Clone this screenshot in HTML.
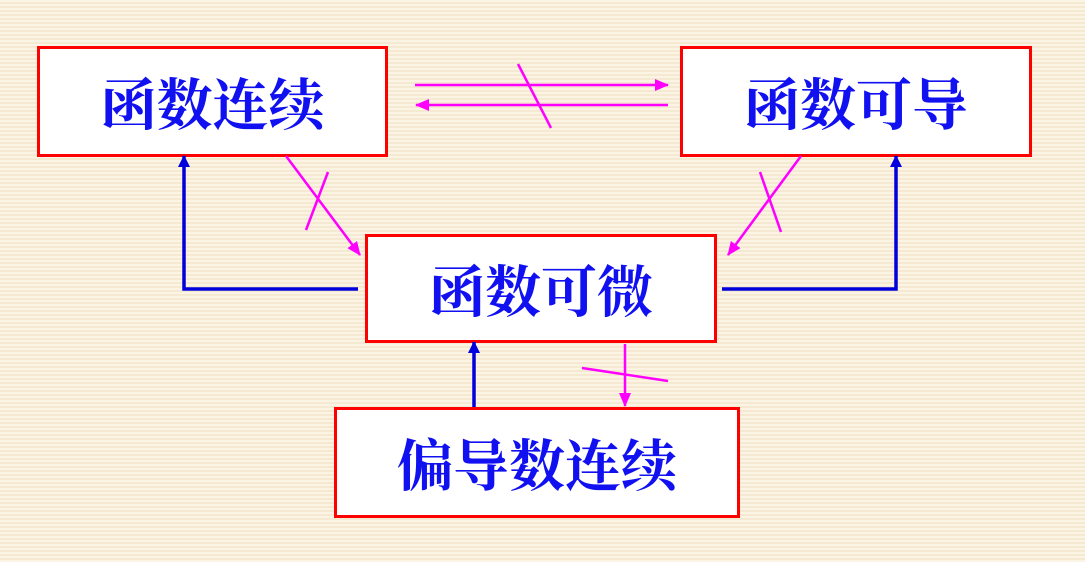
<!DOCTYPE html>
<html><head><meta charset="utf-8"><style>
body{margin:0;width:1085px;height:562px;overflow:hidden;background:repeating-linear-gradient(180deg,#fbf3e3 0 2px,#f6e9d2 2px 4px);position:relative}
.b{position:absolute;background:#fff;border:3px solid #ff0000;box-sizing:border-box;display:flex;align-items:center;justify-content:center;color:#1010f0;font:bold 56px "Liberation Serif","Noto Serif CJK SC",serif}
svg{position:absolute;left:0;top:0}
</style></head><body>
<div class="b" style="left:37px;top:46px;width:351px;height:111px">函数连续</div>
<div class="b" style="left:680px;top:46px;width:352px;height:111px">函数可导</div>
<div class="b" style="left:365px;top:234px;width:352px;height:109px">函数可微</div>
<div class="b" style="left:334px;top:407px;width:406px;height:111px">偏导数连续</div>
<svg width="1085" height="562">
<defs>
<marker id="m" markerWidth="14" markerHeight="12" refX="13" refY="6" orient="auto" markerUnits="userSpaceOnUse"><path d="M0,0 L14,6 L0,12 Z" fill="#ff00ff"/></marker>
<marker id="bl" markerWidth="12" markerHeight="12" refX="11" refY="6" orient="auto" markerUnits="userSpaceOnUse"><path d="M0,0 L12,6 L0,12 Z" fill="#0000dd"/></marker>
</defs>
<g stroke="#ff00ff" stroke-width="2.5" fill="none">
<line x1="415" y1="85" x2="668" y2="85" marker-end="url(#m)"/>
<line x1="668" y1="105" x2="416" y2="105" marker-end="url(#m)"/>
<line x1="518" y1="64" x2="551" y2="128"/>
<line x1="286" y1="156" x2="360" y2="255" marker-end="url(#m)"/>
<line x1="328" y1="172" x2="306" y2="230"/>
<line x1="801" y1="156" x2="728" y2="255" marker-end="url(#m)"/>
<line x1="760" y1="172" x2="781" y2="232"/>
<line x1="625" y1="344" x2="625" y2="406" marker-end="url(#m)"/>
<line x1="582" y1="368" x2="668" y2="381"/>
</g>
<g stroke="#0000dd" stroke-width="3.5" fill="none">
<polyline points="358,289 184,289 184,156" marker-end="url(#bl)"/>
<polyline points="722,289 896,289 896,156" marker-end="url(#bl)"/>
<line x1="474" y1="407" x2="474" y2="342" marker-end="url(#bl)"/>
</g>
</svg>
</body></html>
